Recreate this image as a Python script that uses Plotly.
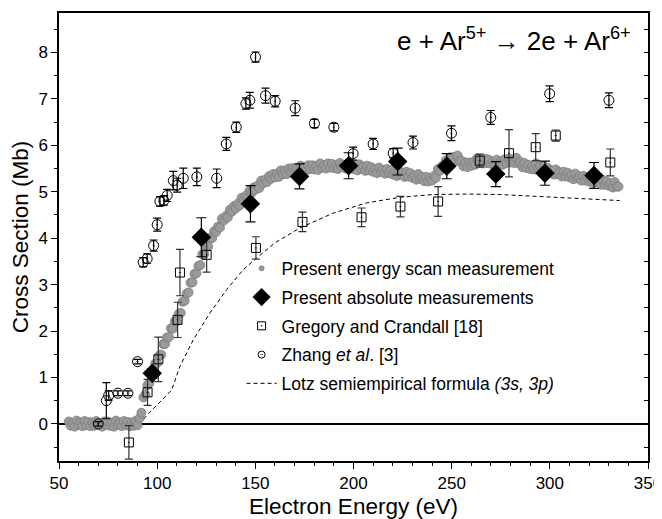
import plotly.graph_objects as go

# ---------------- data ----------------
# Present energy scan measurement, one reading per eV from 55 eV to 335 eV
scan_energy = list(range(55, 336))
scan_sigma = [
    0.05, -0.04, 0.02, -0.06, 0.07, -0.02, 0.03, -0.05, 0.06, -0.03,
    0.04, -0.05, 0.03, -0.04, 0.06, -0.03, 0.02, -0.06, 0.05, -0.02,
    0.05, -0.04, 0.02, -0.06, 0.07, -0.02, 0.03, -0.05, 0.06, -0.03,
    0.04, -0.05, 0.03, -0.04, 0.06, -0.03,
    0.12, 0.24, 0.57, 0.63,
    0.83, 0.87, 1.11, 1.12, 1.30, 1.31, 1.47, 1.49, 1.72, 1.72,
    1.86, 1.87, 2.06, 2.05, 2.21, 2.21, 2.37, 2.39, 2.63, 2.65,
    2.81, 2.83, 3.04, 3.05, 3.23, 3.24, 3.40, 3.42, 3.65, 3.66,
    3.81, 3.82, 4.01, 4.00, 4.15, 4.13, 4.25, 4.23, 4.42, 4.38,
    4.48, 4.45, 4.61, 4.57, 4.69, 4.64, 4.74, 4.70, 4.87, 4.82,
    4.91, 4.87, 5.02, 4.97, 5.09, 5.04, 5.13, 5.08, 5.24, 5.18,
    5.26, 5.21, 5.34, 5.28, 5.38, 5.31, 5.39, 5.32, 5.46, 5.38,
    5.45, 5.38, 5.50, 5.42, 5.51, 5.43, 5.50, 5.42, 5.56, 5.48,
    5.53, 5.46, 5.57, 5.49, 5.57, 5.48, 5.55, 5.47, 5.61, 5.52,
    5.57, 5.50, 5.61, 5.52, 5.60, 5.51, 5.57, 5.49, 5.62, 5.53,
    5.58, 5.50, 5.60, 5.51, 5.59, 5.49, 5.55, 5.46, 5.59, 5.49,
    5.54, 5.45, 5.56, 5.46, 5.53, 5.43, 5.49, 5.40, 5.52, 5.43,
    5.47, 5.39, 5.49, 5.40, 5.47, 5.37, 5.43, 5.34, 5.46, 5.37,
    5.41, 5.32, 5.43, 5.33, 5.40, 5.30, 5.35, 5.26, 5.38, 5.28,
    5.32, 5.23, 5.32, 5.22, 5.30, 5.24, 5.34, 5.30, 5.49, 5.45,
    5.55, 5.51, 5.67, 5.62, 5.74, 5.68, 5.75, 5.66, 5.78, 5.66,
    5.67, 5.55, 5.63, 5.53, 5.63, 5.56, 5.64, 5.58, 5.72, 5.63,
    5.69, 5.61, 5.71, 5.62, 5.69, 5.60, 5.65, 5.57, 5.69, 5.60,
    5.65, 5.58, 5.70, 5.62, 5.71, 5.63, 5.70, 5.62, 5.73, 5.62,
    5.64, 5.53, 5.62, 5.51, 5.58, 5.49, 5.55, 5.48, 5.61, 5.51,
    5.55, 5.45, 5.55, 5.44, 5.51, 5.41, 5.46, 5.37, 5.48, 5.38,
    5.42, 5.33, 5.43, 5.33, 5.41, 5.31, 5.36, 5.27, 5.39, 5.29,
    5.33, 5.24, 5.34, 5.24, 5.32, 5.22, 5.27, 5.18, 5.30, 5.20,
    5.24, 5.15, 5.25, 5.15, 5.22, 5.13, 5.18, 5.09, 5.21, 5.11,
    5.11,
]

# Present absolute measurements
abs_energy = [97.5, 122.5, 147.5, 172.5, 197.5, 222.5, 247.5, 272.5, 297.5, 322.5]
abs_sigma = [1.09, 4.02, 4.74, 5.33, 5.56, 5.65, 5.55, 5.38, 5.40, 5.35]
abs_err = [0.10, 0.42, 0.39, 0.27, 0.28, 0.29, 0.27, 0.27, 0.26, 0.28]

# Gregory and Crandall [18]
greg_energy = [85.6, 95.1, 100.6, 110.4, 111.6, 125.2, 150.3, 174.0, 204.1, 223.9,
               243.1, 264.3, 279.2, 292.8, 303.0, 330.8]
greg_sigma = [-0.40, 0.68, 1.39, 2.24, 3.26, 3.64, 3.79, 4.35, 4.45, 4.68,
              4.79, 5.67, 5.83, 5.96, 6.21, 5.63]
greg_err = [0.36, 0.28, 0.48, 0.38, 0.50, 0.37, 0.24, 0.21, 0.20, 0.22,
            0.32, 0.14, 0.51, 0.29, 0.12, 0.29]

# Zhang et al. [3]
zhang_energy = [70.0, 74.1, 75.3, 80.0, 85.1, 90.0, 92.9, 94.9, 98.2, 100.0,
                101.4, 103.4, 105.1, 108.2, 110.2, 113.3, 120.2, 130.3, 135.2, 140.3,
                145.2, 147.2, 150.1, 155.2, 160.1, 170.3, 180.1, 190.0, 199.8, 210.0,
                220.2, 230.3, 249.9, 269.9, 299.9, 330.1]
zhang_sigma = [0.00, 0.50, 0.61, 0.66, 0.66, 1.34, 3.48, 3.56, 3.84, 4.29,
               4.79, 4.81, 4.92, 5.24, 5.14, 5.29, 5.32, 5.29, 6.03, 6.39,
               6.90, 6.97, 7.90, 7.07, 6.95, 6.80, 6.47, 6.39, 5.82, 6.03,
               5.83, 6.06, 6.26, 6.60, 7.11, 6.97]
zhang_err = [0.05, 0.39, 0.10, 0.05, 0.05, 0.05, 0.10, 0.10, 0.12, 0.14,
             0.10, 0.10, 0.13, 0.20, 0.15, 0.22, 0.19, 0.20, 0.14, 0.11,
             0.12, 0.17, 0.11, 0.16, 0.12, 0.16, 0.09, 0.08, 0.14, 0.12,
             0.10, 0.14, 0.16, 0.15, 0.17, 0.16]

# Lotz semiempirical formula (3s, 3p)
lotz_energy = [55, 70, 85, 91, 95, 100, 104, 107.4, 111.6, 118.4, 126.9, 135.4, 143.8,
               150.6, 160, 172.7, 189.7, 206.7, 223.6, 240.6, 257.6, 274.5, 291.5,
               308.5, 335.6]
lotz_sigma = [0, 0, 0, 0, 0.2, 0.4, 0.58, 0.73, 1.24, 1.81, 2.39, 2.89, 3.32,
              3.57, 3.9, 4.22, 4.54, 4.76, 4.88, 4.94, 4.95, 4.94, 4.90,
              4.86, 4.81]

x_ticks = [50, 100, 150, 200, 250, 300, 350]
y_ticks = [0, 1, 2, 3, 4, 5, 6, 7, 8]

FONT = "Arial, Liberation Sans, sans-serif"

SCAN_NAME = "Present energy scan measurement"
ABS_NAME = "Present absolute measurements"
GREG_NAME = "Gregory and Crandall [18]"
ZHANG_NAME = "Zhang <i>et al</i>. [3]"
LOTZ_NAME = "Lotz semiempirical formula <i>(3s, 3p)</i>"

fig = go.Figure()

fig.add_trace(go.Scatter(
    x=lotz_energy, y=lotz_sigma, mode="lines",
    line=dict(color="black", width=1, dash="4px,3px"),
    name=LOTZ_NAME, legendrank=5, legendgroup="e",
))

fig.add_trace(go.Scatter(
    x=scan_energy, y=scan_sigma, mode="markers",
    marker=dict(symbol="circle", size=9, color="#9a9a9a",
                line=dict(color="#7c7c7c", width=0.8)),
    name=SCAN_NAME, showlegend=False,
))
# legend entry for the scan (small dot, as in the reference key)
fig.add_trace(go.Scatter(
    x=[None], y=[None], mode="markers",
    marker=dict(symbol="circle", size=5, color="#9a9a9a",
                line=dict(color="#7c7c7c", width=0.8)),
    name=SCAN_NAME, legendrank=1, legendgroup="a",
))

fig.add_trace(go.Scatter(
    x=greg_energy, y=greg_sigma, mode="markers",
    marker=dict(symbol="square-open-dot", size=9, color="black",
                line=dict(color="black", width=1)),
    error_y=dict(type="data", array=greg_err, color="#333333",
                 thickness=1.2, width=4),
    name=GREG_NAME, showlegend=False,
))
fig.add_trace(go.Scatter(
    x=[None], y=[None], mode="markers",
    marker=dict(symbol="square-open-dot", size=8, color="black",
                line=dict(color="black", width=1)),
    name=GREG_NAME, legendrank=3, legendgroup="c",
))

fig.add_trace(go.Scatter(
    x=zhang_energy, y=zhang_sigma, mode="markers",
    marker=dict(symbol="circle-open-dot", size=10, color="black",
                line=dict(color="black", width=1)),
    error_y=dict(type="data", array=zhang_err, color="black",
                 thickness=1.2, width=4),
    name=ZHANG_NAME, showlegend=False,
))
fig.add_trace(go.Scatter(
    x=[None], y=[None], mode="markers",
    marker=dict(symbol="circle-open-dot", size=7, color="black",
                line=dict(color="black", width=1)),
    name=ZHANG_NAME, legendrank=4, legendgroup="d",
))

fig.add_trace(go.Scatter(
    x=abs_energy, y=abs_sigma, mode="markers",
    marker=dict(symbol="diamond", size=15, color="black"),
    error_y=dict(type="data", array=abs_err, color="black",
                 thickness=1.2, width=5),
    name=ABS_NAME, showlegend=False,
))
fig.add_trace(go.Scatter(
    x=[None], y=[None], mode="markers",
    marker=dict(symbol="diamond", size=14, color="black"),
    name=ABS_NAME, legendrank=2, legendgroup="b",
))

# invisible trace to carry the inward ticks of the right-hand axis
fig.add_trace(go.Scatter(x=[50], y=[0], yaxis="y2", mode="markers",
                         marker=dict(opacity=0), showlegend=False, hoverinfo="skip"))

fig.add_annotation(
    x=0.975, y=0.94, xref="paper", yref="paper", xanchor="right", yanchor="middle",
    text="e + Ar<sup>5+</sup> → 2e + Ar<sup>6+</sup>", showarrow=False,
    font=dict(family=FONT, size=26, color="black"),
)

# the page body adds an 8 px margin, so the figure is sized to fit the window after it
fig.update_layout(
    width=654, height=511,
    margin=dict(l=51, r=14, t=5, b=58),
    paper_bgcolor="white", plot_bgcolor="white",
    font=dict(family=FONT, size=17, color="black"),
    showlegend=True,
    legend=dict(
        x=0.31, y=0.47, xanchor="left", yanchor="top",
        bgcolor="rgba(0,0,0,0)", font=dict(family=FONT, size=17.5, color="black"),
        traceorder="grouped", itemwidth=30, tracegroupgap=3,
    ),
    xaxis=dict(
        range=[50, 350], tickvals=x_ticks, ticktext=[str(v) for v in x_ticks],
        ticks="outside", ticklen=6, tickwidth=1.2, tickcolor="black",
        minor=dict(dtick=10, ticks="outside", ticklen=3, tickwidth=1, tickcolor="black"),
        showline=True, linecolor="black", linewidth=1.5, mirror=True,
        showgrid=False, zeroline=False, automargin=False,
        ticklabeloverflow="allow",
        title=dict(text="Electron Energy (eV)", font=dict(family=FONT, size=22.5)),
        tickfont=dict(family=FONT, size=17),
    ),
    yaxis=dict(
        range=[-0.8, 8.85], tickvals=y_ticks, ticktext=[str(v) for v in y_ticks],
        ticks="outside", ticklen=6, tickwidth=1.2, tickcolor="black",
        minor=dict(dtick=0.5, ticks="outside", ticklen=3, tickwidth=1, tickcolor="black"),
        showline=True, linecolor="black", linewidth=1.5, mirror=True,
        showgrid=False, zeroline=True, zerolinecolor="black", zerolinewidth=2,
        automargin=False,
        title=dict(text="Cross Section (Mb)", font=dict(family=FONT, size=22.5)),
        tickfont=dict(family=FONT, size=17),
    ),
    yaxis2=dict(
        range=[-0.8, 8.85], overlaying="y", side="right", tickvals=y_ticks,
        showticklabels=False, ticks="inside", ticklen=4, tickwidth=1, tickcolor="black",
        minor=dict(dtick=0.5, ticks="inside", ticklen=4, tickwidth=1, tickcolor="black"),
        showline=False, showgrid=False, zeroline=False, automargin=False,
    ),
)

fig.write_html("out.html")
